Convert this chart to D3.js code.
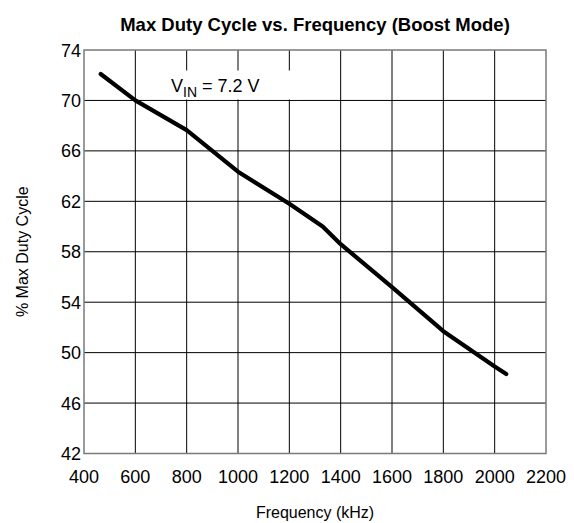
<!DOCTYPE html>
<html>
<head>
<meta charset="utf-8">
<script src="https://cdn.jsdelivr.net/npm/d3@7"></script>
<style>
  body { margin: 0; background: #fff; }
  text { font-family: "Liberation Sans", Arial, sans-serif; fill: #000; }
</style>
</head>
<body>
<div id="chart"></div>
<script>
// values
const freq = [465, 600, 800, 1000, 1200, 1330, 1400, 1600, 1800, 2000, 2045];
const duty = [72.1, 70.0, 67.65, 64.35, 61.8, 60.0, 58.6, 55.2, 51.7, 48.9, 48.3];
const xTicks = [400, 600, 800, 1000, 1200, 1400, 1600, 1800, 2000, 2200];
const yTicks = [42, 46, 50, 54, 58, 62, 66, 70, 74];

const W = 574, H = 523;
const margin = {top: 50, right: 28, bottom: 69.5, left: 84};
const w = W - margin.left - margin.right;
const h = H - margin.top - margin.bottom;

const svg = d3.select('#chart').append('svg')
  .attr('width', W)
  .attr('height', H);

const x = d3.scaleLinear().domain([400, 2200]).range([margin.left, margin.left + w]);
const y = d3.scaleLinear().domain([42, 74]).range([margin.top + h, margin.top]);

// grid
svg.append('g').selectAll('line.vx')
  .data(xTicks.slice(1, -1))
  .join('line')
  .attr('x1', d => x(d)).attr('x2', d => x(d))
  .attr('y1', y(42)).attr('y2', y(74))
  .attr('stroke', '#000').attr('stroke-width', 1);

svg.append('g').selectAll('line.hy')
  .data(yTicks.slice(1, -1))
  .join('line')
  .attr('x1', x(400)).attr('x2', x(2200))
  .attr('y1', d => y(d)).attr('y2', d => y(d))
  .attr('stroke', '#000').attr('stroke-width', 1);

// frame
svg.append('rect')
  .attr('x', x(400)).attr('y', y(74))
  .attr('width', w).attr('height', h)
  .attr('fill', 'none')
  .attr('stroke', '#7a7a7a')
  .attr('stroke-width', 1.5);

// tick labels
svg.append('g').selectAll('text')
  .data(xTicks)
  .join('text')
  .attr('x', d => x(d))
  .attr('y', y(42) + 29.5)
  .attr('text-anchor', 'middle')
  .style('font-size', '18px')
  .text(d => d);

svg.append('g').selectAll('text')
  .data(yTicks)
  .join('text')
  .attr('x', x(400) - 3)
  .attr('y', d => y(d) + 6.5)
  .attr('text-anchor', 'end')
  .style('font-size', '18px')
  .text(d => d);

// series
const pts = freq.map((f, i) => [f, duty[i]]);
const line = d3.line()
  .x(d => x(d[0]))
  .y(d => y(d[1]));

svg.append('path')
  .datum(pts)
  .attr('d', line)
  .attr('fill', 'none')
  .attr('stroke', '#000')
  .attr('stroke-width', 4.2)
  .attr('stroke-linecap', 'round')
  .attr('stroke-linejoin', 'round');

// annotation
svg.append('rect')
  .attr('x', 166).attr('y', y(74) + 20.5)
  .attr('width', 134).attr('height', 29)
  .attr('fill', '#fff');

const ann = svg.append('text')
  .attr('x', 171)
  .attr('y', 92)
  .style('font-size', '18px');
ann.append('tspan').text('V');
ann.append('tspan').attr('dy', 5).style('font-size', '14px').text('IN');
ann.append('tspan').attr('dy', -5).text(' = 7.2 V');

// titles
svg.append('text')
  .attr('x', x(1300))
  .attr('y', 31)
  .attr('text-anchor', 'middle')
  .style('font-size', '18.5px')
  .style('font-weight', 'bold')
  .text('Max Duty Cycle vs. Frequency (Boost Mode)');

svg.append('text')
  .attr('x', x(1300))
  .attr('y', 518)
  .attr('text-anchor', 'middle')
  .style('font-size', '16px')
  .text('Frequency (kHz)');

svg.append('text')
  .attr('transform', `translate(28, ${y(58)}) rotate(-90)`)
  .attr('text-anchor', 'middle')
  .style('font-size', '16px')
  .text('% Max Duty Cycle');
</script>
</body>
</html>
